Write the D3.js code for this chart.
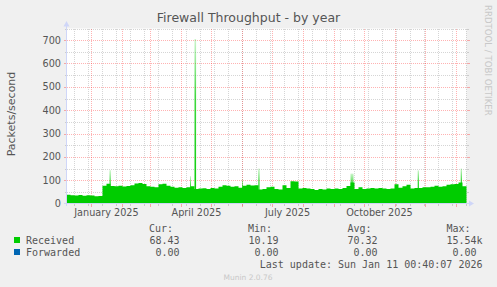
<!DOCTYPE html>
<html>
<head>
<meta charset="utf-8">
<script src="https://cdnjs.cloudflare.com/ajax/libs/d3/7.8.5/d3.min.js"></script>
<style>
  body { margin: 0; background: #f0f0f0; }
  svg { display: block; }
</style>
</head>
<body>
<div id="chart"></div>
<script>
// time range: munin "year" graph = last 400 days
const endTime = new Date(2026, 0, 11, 0, 40, 7);
const startTime = d3.timeDay.offset(endTime, -400);
const stepDays = 4;

// Received packets/second, one value per 4 days
const received = [
  37, 35, 34, 36, 33, 35, 34, 31, 32, 76,
  85, 75, 74, 76, 73, 75, 78, 86, 88, 84,
  74, 72, 70, 82, 85, 76, 72, 68, 70, 66,
  70, 74, 62, 64, 65, 62, 66, 64, 72, 78,
  76, 72, 74, 68, 76, 80, 77, 78, 60, 62,
  70, 72, 62, 60, 78, 66, 95, 94, 64, 66,
  64, 62, 58, 62, 60, 64, 62, 64, 62, 66,
  75, 90, 62, 70, 62, 64, 66, 64, 66, 64,
  62, 64, 82, 68, 74, 80, 64, 66, 66, 70,
  70, 72, 76, 72, 74, 80, 82, 84, 90, 74
];

// short spikes (day offset from start, peak value, width in days)
const spikeDays = [43, 123.5, 128, 175.5, 191.8, 284, 351.2, 394.2];
const spikeValues = [143, 117, 705, 103, 150, 128, 142, 150];
const spikeWidths = [1.3, 1, 1.6, 1, 1.3, 3, 1.3, 1.3];

const yMajor = [100, 200, 300, 400, 500, 600, 700];
const yMinor = [50, 150, 250, 350, 450, 550, 650, 750];
const yLabels = [0, 100, 200, 300, 400, 500, 600, 700];
const xLabelText = ['January 2025', 'April 2025', 'July 2025', 'October 2025'];
const xLabelMonths = [new Date(2025, 0, 1), new Date(2025, 3, 1), new Date(2025, 6, 1), new Date(2025, 9, 1)];

const legendNames = ['Received', 'Forwarded'];
const legendColors = ['#00cc00', '#0066b3'];
const legendCur = ['68.43', '0.00'];
const legendMin = ['10.19', '0.00'];
const legendAvg = ['70.32', '0.00'];
const legendMax = ['15.54k', '0.00 '];

const W = 497, H = 287;
const svg = d3.select('#chart').append('svg')
  .attr('width', W).attr('height', H);

svg.append('rect').attr('width', W).attr('height', H).attr('fill', '#f0f0f0');

const x = d3.scaleTime().domain([startTime, endTime]).range([66.5, 466.5]);
const y = d3.scaleLinear().domain([0, 750]).range([203.5, 28.5]);

const defs = svg.append('defs');
const grad = defs.append('linearGradient').attr('id', 'fade')
  .attr('x1', 0).attr('y1', 0).attr('x2', 0).attr('y2', 1);
grad.append('stop').attr('offset', 0).attr('stop-color', '#00cc00').attr('stop-opacity', 0.2);
grad.append('stop').attr('offset', 0.35).attr('stop-color', '#00cc00').attr('stop-opacity', 0.75);
grad.append('stop').attr('offset', 1).attr('stop-color', '#00cc00').attr('stop-opacity', 1);

// canvas
svg.append('rect')
  .attr('x', x.range()[0]).attr('y', y(750))
  .attr('width', x.range()[1] - x.range()[0])
  .attr('height', y(0) - y(750))
  .attr('fill', '#ffffff');

const gridColor = 'rgba(128,128,128,0.33)';
const mgridColor = 'rgba(255,0,0,0.3)';
const grid = svg.append('g').attr('shape-rendering', 'crispEdges');

// vertical minor grid: every 2 weeks (Sundays)
const firstSunday = d3.timeSunday.offset(d3.timeSunday.ceil(startTime), 1);
const minorDates = d3.timeSunday.range(firstSunday, endTime, 2);
const majorDates = d3.timeMonth.range(d3.timeMonth.ceil(startTime), endTime);

function vline(dates, color, ext) {
  grid.selectAll(null).data(dates).enter().append('line')
    .attr('x1', d => Math.round(x(d)) + 0.5).attr('x2', d => Math.round(x(d)) + 0.5)
    .attr('y1', y(750)).attr('y2', y(0))
    .attr('stroke', color).attr('stroke-dasharray', '1,1');
  grid.selectAll(null).data(dates).enter().append('line')
    .attr('x1', d => Math.round(x(d)) + 0.5).attr('x2', d => Math.round(x(d)) + 0.5)
    .attr('y1', y(0)).attr('y2', y(0) + ext)
    .attr('stroke', color);
}
function hline(vals, color, ext) {
  grid.selectAll(null).data(vals).enter().append('line')
    .attr('x1', x.range()[0]).attr('x2', x.range()[1])
    .attr('y1', d => Math.round(y(d)) + 0.5).attr('y2', d => Math.round(y(d)) + 0.5)
    .attr('stroke', color).attr('stroke-dasharray', '1,1');
  grid.selectAll(null).data(vals).enter().append('line')
    .attr('x1', x.range()[0] - ext).attr('x2', x.range()[0])
    .attr('y1', d => Math.round(y(d)) + 0.5).attr('y2', d => Math.round(y(d)) + 0.5)
    .attr('stroke', color);
  grid.selectAll(null).data(vals).enter().append('line')
    .attr('x1', x.range()[1]).attr('x2', x.range()[1] + ext)
    .attr('y1', d => Math.round(y(d)) + 0.5).attr('y2', d => Math.round(y(d)) + 0.5)
    .attr('stroke', color);
}
vline(minorDates, gridColor, 2);
hline(yMinor, gridColor, 2);
vline(majorDates, mgridColor, 3);
hline(yMajor, mgridColor, 3);

// received area
const series = received.map((v, i) => ({ t: d3.timeDay.offset(startTime, i * stepDays), v }));
series.push({ t: endTime, v: received[received.length - 1] });

// spikes drawn first, area on top
svg.append('g').selectAll('rect').data(spikeDays).enter().append('rect')
  .attr('x', (d, i) => x(d3.timeHour.offset(startTime, d * 24)))
  .attr('width', (d, i) => x(d3.timeHour.offset(startTime, (d + spikeWidths[i]) * 24)) - x(d3.timeHour.offset(startTime, d * 24)))
  .attr('y', (d, i) => y(spikeValues[i]))
  .attr('height', (d, i) => y(0) - y(spikeValues[i]))
  .attr('fill', 'url(#fade)');

const area = d3.area()
  .x(d => x(d.t))
  .y0(y(0))
  .y1(d => y(d.v))
  .curve(d3.curveStepAfter);
svg.append('path').datum(series)
  .attr('d', area)
  .attr('fill', '#00cc00');

// axes
const axisColor = '#cfd6f8';
svg.append('line').attr('x1', 64).attr('x2', 470).attr('y1', 203.5).attr('y2', 203.5)
  .attr('stroke', axisColor).attr('shape-rendering', 'crispEdges');
svg.append('line').attr('x1', 66.5).attr('x2', 66.5).attr('y1', 206).attr('y2', 25)
  .attr('stroke', axisColor).attr('shape-rendering', 'crispEdges');
svg.append('path').attr('d', 'M469,200.5L474,203.5L469,206.5Z').attr('fill', axisColor);
svg.append('path').attr('d', 'M63.5,26.5L66.5,21L69.5,26.5Z').attr('fill', axisColor);

const font = 'DejaVu Sans, sans-serif';
const mono = 'DejaVu Sans Mono, monospace';
const textColor = '#555';

// y labels
svg.append('g').selectAll('text').data(yLabels).enter().append('text')
  .attr('x', 61).attr('y', d => y(d) + 3.5)
  .attr('text-anchor', 'end')
  .attr('font-family', font).attr('font-size', 9.7)
  .attr('fill', textColor)
  .text(d => d);

// x labels, centred half a month after the month start
svg.append('g').selectAll('text').data(xLabelMonths).enter().append('text')
  .attr('x', d => x(d3.timeDay.offset(d, 15)))
  .attr('y', 216)
  .attr('text-anchor', 'middle')
  .attr('font-family', font).attr('font-size', 9.7)
  .attr('fill', textColor)
  .text((d, i) => xLabelText[i]);

// title
svg.append('text').attr('x', 248.5).attr('y', 22)
  .attr('text-anchor', 'middle')
  .attr('font-family', font).attr('font-size', 12.5)
  .attr('fill', textColor)
  .text('Firewall Throughput - by year');

// vertical label
svg.append('text')
  .attr('transform', 'translate(15,114) rotate(-90)')
  .attr('text-anchor', 'middle')
  .attr('font-family', font).attr('font-size', 11)
  .attr('fill', textColor)
  .text('Packets/second');

// watermark
svg.append('text')
  .attr('transform', 'translate(484.5,5) rotate(90)')
  .attr('font-family', font).attr('font-size', 8.6)
  .attr('fill', '#c8c8c8')
  .text('RRDTOOL / TOBI OETIKER');

// legend
const lg = svg.append('g').attr('font-family', mono).attr('font-size', 10).attr('fill', textColor);
const headX = [149, 248, 347.5, 446.5];
['Cur:', 'Min:', 'Avg:', 'Max:'].forEach((h, i) => {
  lg.append('text').attr('x', headX[i]).attr('y', 231.5).text(h);
});
const cols = [legendCur, legendMin, legendAvg, legendMax];
const colX = [179.5, 278.5, 377.5, 482.5];
legendNames.forEach((name, r) => {
  const by = 243.5 + r * 12;
  svg.append('rect').attr('x', 14).attr('y', by - 6.5).attr('width', 6).attr('height', 6)
    .attr('fill', legendColors[r]);
  lg.append('text').attr('x', 26).attr('y', by).text(name);
  cols.forEach((c, k) => {
    lg.append('text').attr('x', colX[k]).attr('y', by)
      .attr('text-anchor', 'end').style('white-space', 'pre')
      .text(c[r]);
  });
});
lg.append('text').attr('x', 482.5).attr('y', 267.5).attr('text-anchor', 'end')
  .text('Last update: Sun Jan 11 00:40:07 2026');

svg.append('text').attr('x', 248).attr('y', 279.5)
  .attr('text-anchor', 'middle')
  .attr('font-family', font).attr('font-size', 7.5)
  .attr('fill', '#c8c8c8')
  .text('Munin 2.0.76');
</script>
</body>
</html>
